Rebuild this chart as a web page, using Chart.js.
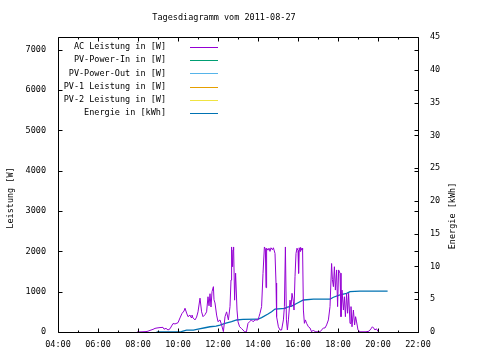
<!DOCTYPE html>
<html><head><meta charset="utf-8">
<script src="https://cdn.jsdelivr.net/npm/chart.js@4.4.0/dist/chart.umd.min.js"></script>
<style>html,body{margin:0;padding:0;background:#fff}#c{display:block}</style>
</head><body>
<canvas id="c" width="480" height="360"></canvas>
<script>
const chartTitle = "Tagesdiagramm vom 2011-08-27";
const seriesLabels = ["AC Leistung in [W]","PV-Power-In in [W]","PV-Power-Out in [W]","PV-1 Leistung in [W]","PV-2 Leistung in [W]","Energie in [kWh]"];
const seriesColors = ["#9400d3","#009e73","#56b4e9","#e69f00","#f0e442","#0072b2"];
const xTickHours = [4,6,8,10,12,14,16,18,20,22];
const leftTicks = [0,1000,2000,3000,4000,5000,6000,7000];
const rightTicks = [0,5,10,15,20,25,30,35,40,45];
const leftAxisTitle = "Leistung [W]";
const rightAxisTitle = "Energie [kWh]";

// AC power: time (hours) and watts
const acTime = [7.95,8.2,8.4,8.5,8.6,8.75,8.85,8.95,9.1,9.25,9.3,9.4,9.5,9.6,9.68,9.75,9.85,9.95,10.0,10.1,10.2,10.3,10.35,10.43,10.5,10.6,10.65,10.7,10.75,10.85,10.93,11.0,11.1,11.18,11.25,11.35,11.43,11.5,11.55,11.6,11.65,11.7,11.77,11.8,11.85,11.93,12.0,12.1,12.18,12.27,12.35,12.43,12.52,12.6,12.65,12.68,12.73,12.75,12.78,12.83,12.88,12.95,13.0,13.08,13.17,13.25,13.33,13.42,13.5,13.58,13.67,13.75,13.85,14.0,14.05,14.1,14.18,14.25,14.32,14.37,14.4,14.43,14.5,14.55,14.6,14.65,14.72,14.77,14.85,14.9,14.93,15.02,15.1,15.18,15.27,15.32,15.37,15.42,15.47,15.52,15.6,15.65,15.7,15.77,15.8,15.85,15.9,15.95,16.0,16.03,16.06,16.1,16.13,16.17,16.2,16.23,16.27,16.32,16.37,16.43,16.52,16.6,16.68,16.77,16.85,17.0,17.1,17.18,17.27,17.35,17.43,17.52,17.6,17.68,17.72,17.77,17.82,17.87,17.93,17.98,18.03,18.1,18.15,18.2,18.27,18.32,18.37,18.43,18.48,18.53,18.6,18.65,18.7,18.77,18.83,18.88,18.93,19.0,19.1,19.2,19.4,19.55,19.65,19.72,19.78,19.85,19.92,20.02];
const acPower = [0,5,10,20,40,65,90,100,110,115,70,90,50,80,150,210,200,220,230,350,460,520,590,470,380,420,360,420,350,300,370,500,840,500,380,430,500,875,650,950,620,1000,1125,800,720,420,255,300,175,10,380,500,300,630,1290,2110,1620,2035,2110,790,1460,545,255,130,90,50,5,5,215,255,300,255,300,300,380,465,630,1455,2110,2060,1100,2080,2030,2080,2000,2090,2040,2090,1950,1215,380,130,50,50,300,630,2110,300,50,300,790,630,960,750,545,1370,1950,2080,2020,1455,2090,2000,2100,2030,2080,2035,545,215,300,215,130,100,5,50,5,5,5,50,100,100,175,300,630,1700,1300,1125,1620,1040,1540,630,1540,1460,380,1040,545,875,380,960,465,960,215,630,130,545,175,380,250,50,5,5,5,20,80,130,100,50,80,5];

// Energy: time (hours) and kWh
const energyTime = [8.93,10.1,10.25,10.43,10.77,11.0,11.35,11.6,11.9,12.1,12.35,12.68,12.93,13.25,14.0,14.18,14.5,14.68,14.85,15.35,15.43,15.68,15.93,16.27,16.77,17.6,17.77,18.1,18.43,18.6,19.1,20.48];
const energyKWh = [0,0,0.15,0.3,0.3,0.45,0.65,0.8,0.9,1.05,1.33,1.57,1.83,1.93,1.95,2.2,2.75,3.1,3.5,3.6,3.75,3.95,4.35,4.88,5.0,5.0,5.3,5.65,5.9,6.15,6.25,6.25];

const emptySeries = [];

const FONT = "DejaVu Sans Mono";
const FS = 8.5;

function pts(t, v){ return t.map((x,i)=>({x:x,y:v[i]})); }
function hh(v){ return (v<10?'0':'')+v+':00'; }

const gp = {
  id:'gp',
  afterDraw(chart){
    const ctx = chart.ctx, a = chart.chartArea;
    const sx = chart.scales.x, sy = chart.scales.y, sy2 = chart.scales.y2;
    ctx.save();
    ctx.strokeStyle = '#000'; ctx.lineWidth = 1;
    ctx.beginPath();
    const L = Math.round(a.left)+0.5, R = Math.round(a.right)+0.5, T = Math.round(a.top)+0.5, B = Math.round(a.bottom)+0.5;
    ctx.rect(L, T, R-L, B-T);
    for (let h=4; h<=22; h++){
      const px = Math.round(sx.getPixelForValue(h))+0.5;
      const len = (h%2===0)?4:2;
      ctx.moveTo(px,B); ctx.lineTo(px,B-len);
      ctx.moveTo(px,T); ctx.lineTo(px,T+len);
    }
    sy.ticks.forEach(t=>{
      const py = Math.round(sy.getPixelForValue(t.value))+0.5;
      ctx.moveTo(L,py); ctx.lineTo(L+4,py);
      ctx.moveTo(R,py); ctx.lineTo(R-4,py);
    });
    sy2.ticks.forEach(t=>{
      const py = Math.round(sy2.getPixelForValue(t.value))+0.5;
      ctx.moveTo(R,py); ctx.lineTo(R-4,py);
    });
    ctx.stroke();

    ctx.fillStyle = '#000';
    ctx.font = FS+'px "'+FONT+'"';
    ctx.textBaseline = 'middle';
    ctx.textAlign = 'center';
    ctx.fillText(chartTitle, 224, 18);
    chart.data.datasets.forEach((ds,i)=>{
      const y = 47 + i*13.2;
      ctx.textAlign = 'right';
      ctx.fillStyle = '#000';
      ctx.fillText(ds.label, 166, y);
      ctx.strokeStyle = ds.borderColor; ctx.lineWidth = 1;
      ctx.beginPath(); ctx.moveTo(190, Math.round(y)+0.5); ctx.lineTo(218, Math.round(y)+0.5); ctx.stroke();
    });
    ctx.fillStyle = '#000';
    ctx.textAlign = 'center';
    ctx.save(); ctx.translate(11, 198); ctx.rotate(-Math.PI/2); ctx.fillText(leftAxisTitle, 0, 0); ctx.restore();
    ctx.save(); ctx.translate(453, 216); ctx.rotate(-Math.PI/2); ctx.fillText(rightAxisTitle, 0, 0); ctx.restore();
    ctx.restore();
  }
};

const tickFont = {family: FONT, size: FS};
new Chart(document.getElementById('c'), {
  type:'line',
  data:{
    datasets:[
      {label:seriesLabels[0], data:pts(acTime, acPower), borderColor:seriesColors[0], yAxisID:'y'},
      {label:seriesLabels[1], data:emptySeries, borderColor:seriesColors[1], yAxisID:'y'},
      {label:seriesLabels[2], data:emptySeries, borderColor:seriesColors[2], yAxisID:'y'},
      {label:seriesLabels[3], data:emptySeries, borderColor:seriesColors[3], yAxisID:'y'},
      {label:seriesLabels[4], data:emptySeries, borderColor:seriesColors[4], yAxisID:'y'},
      {label:seriesLabels[5], data:pts(energyTime, energyKWh), borderColor:seriesColors[5], yAxisID:'y2', borderWidth:1.3}
    ]
  },
  options:{
    responsive:false, animation:false,
    layout:{padding:{top:37,left:0,right:0,bottom:0}},
    datasets:{line:{borderWidth:1, pointRadius:0, tension:0, fill:false}},
    plugins:{legend:{display:false}, title:{display:false}, tooltip:{enabled:false}},
    scales:{
      x:{type:'linear', min:4, max:22,
        afterBuildTicks:s=>{ s.ticks = xTickHours.map(v=>({value:v})); },
        ticks:{callback:v=>hh(v), font:tickFont, color:'#000', padding:8, maxRotation:0, autoSkip:false},
        grid:{display:false, drawTicks:false}, border:{display:false},
        afterFit:s=>{ s.height = 28; }},
      y:{position:'left', min:0, max:7320,
        afterBuildTicks:s=>{ s.ticks = leftTicks.map(v=>({value:v})); },
        ticks:{callback:v=>String(v), font:tickFont, color:'#000', padding:12, autoSkip:false},
        grid:{display:false, drawTicks:false}, border:{display:false},
        afterFit:s=>{ s.width = 58; }},
      y2:{position:'right', min:0, max:45,
        afterBuildTicks:s=>{ s.ticks = rightTicks.map(v=>({value:v})); },
        ticks:{callback:v=>String(v), font:tickFont, color:'#000', padding:12, autoSkip:false},
        grid:{display:false, drawTicks:false}, border:{display:false},
        afterFit:s=>{ s.width = 62; }}
    }
  },
  plugins:[gp]
});
</script>
</body></html>
